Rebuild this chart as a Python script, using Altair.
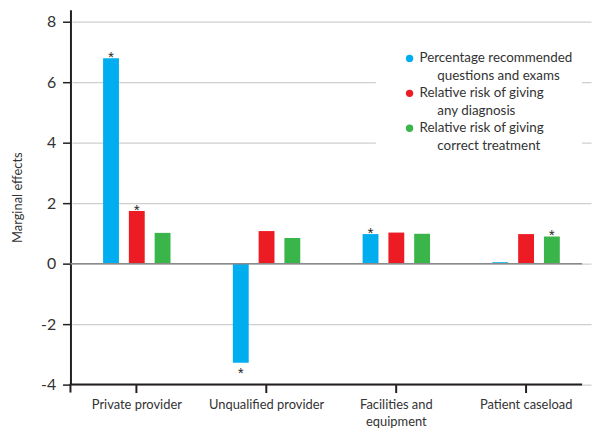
import altair as alt
import pandas as pd

categories = ["Private provider", "Unqualified provider", "Facilities and equipment", "Patient caseload"]
series = [
    "Percentage recommended questions and exams",
    "Relative risk of giving any diagnosis",
    "Relative risk of giving correct treatment",
]
pct_questions = [6.8, -3.28, 0.98, 0.05]
rr_diagnosis = [1.74, 1.08, 1.03, 0.98]
rr_treatment = [1.02, 0.85, 0.99, 0.9]
sig_questions = [True, True, True, False]
sig_diagnosis = [True, False, False, False]
sig_treatment = [False, False, False, True]
colors = ["#00AEEF", "#ED1C24", "#3AB54A"]
legend_lines = [
    ["Percentage recommended", "questions and exams"],
    ["Relative risk of giving", "any diagnosis"],
    ["Relative risk of giving", "correct treatment"],
]
y_ticks = [-4, -2, 0, 2, 4, 6, 8]

FONT = "Lato"
TXT = "#333333"

rows = []
for vals, sigs, s in [(pct_questions, sig_questions, series[0]),
                      (rr_diagnosis, sig_diagnosis, series[1]),
                      (rr_treatment, sig_treatment, series[2])]:
    for c, v, g in zip(categories, vals, sigs):
        rows.append({"category": c, "series": s, "value": v, "sig": g})
df = pd.DataFrame(rows)

W, H = 516, 378

x_enc = alt.X(
    "category:N", sort=categories, title=None,
    scale=alt.Scale(range=[1.5, 525], paddingInner=0, paddingOuter=0),
    axis=alt.Axis(
        domain=False, tickColor="#231f20", tickWidth=2, tickSize=8,
        labelAngle=0, labelFont=FONT, labelFontSize=13, labelColor=TXT,
        labelPadding=6, labelLineHeight=17,
        labelExpr="datum.label == 'Facilities and equipment' ? ['Facilities and', 'equipment'] : datum.label",
    ),
)
xo_enc = alt.XOffset("series:N", sort=series,
                     scale=alt.Scale(range=[31.4, 99.4], paddingInner=0.3846, paddingOuter=0))
y_enc = alt.Y(
    "value:Q", title="Marginal effects",
    scale=alt.Scale(domain=[-4, 8.4], nice=False, zero=False),
    axis=alt.Axis(
        values=y_ticks, labelExpr="'' + datum.value",
        domainColor="#231f20", domainWidth=2, tickColor="#231f20", tickWidth=1.5,
        tickSize=8, labelPadding=7, labelFont=FONT, labelFontSize=16, labelColor=TXT,
        gridColor="#cfcfcf", gridWidth=1.2,
        titleFont=FONT, titleFontSize=13, titleFontWeight="normal", titleColor=TXT,
        titlePadding=16,
    ),
)
color_enc = alt.Color("series:N", scale=alt.Scale(domain=series, range=colors), legend=None)

base = alt.Chart(df)

legend_bg = alt.Chart(pd.DataFrame({"a": [0]})).mark_rect(color="white").encode(
    x=alt.value(308), x2=alt.value(W), y=alt.value(28), y2=alt.value(150)
)

zero_line = alt.Chart(pd.DataFrame({"v": [0]})).mark_rule(color="#8a8a8a", strokeWidth=1.5).encode(
    y=alt.Y("v:Q")
)

bars = base.mark_bar(opacity=1).encode(x=x_enc, xOffset=xo_enc, y=y_enc, color=color_enc)

stars_up = base.transform_filter("datum.sig && datum.value >= 0").mark_text(
    text="*", font="Roboto", fontSize=13, color=TXT, baseline="alphabetic", dy=3
).encode(x=alt.X("category:N", sort=categories), xOffset=alt.XOffset("series:N", sort=series), y="value:Q")

stars_down = base.transform_filter("datum.sig && datum.value < 0").mark_text(
    text="*", font="Roboto", fontSize=13, color=TXT, baseline="alphabetic", dy=14
).encode(x=alt.X("category:N", sort=categories), xOffset=alt.XOffset("series:N", sort=series), y="value:Q")

x_axis_line = alt.Chart(pd.DataFrame({"a": [0]})).mark_rule(color="#231f20", strokeWidth=2).encode(
    x=alt.value(0), x2=alt.value(W), y=alt.value(H)
)
y_axis_ext = alt.Chart(pd.DataFrame({"a": [0]})).mark_rule(color="#231f20", strokeWidth=2).encode(
    x=alt.value(0), y=alt.value(H - 1), y2=alt.value(H + 8)
)

dot_rows, text_rows = [], []
for i, (s, lines) in enumerate(zip(series, legend_lines)):
    y0 = 49 + i * 35.2
    dot_rows.append({"series": s, "px": 342, "py": y0})
    text_rows.append({"t": lines[0], "px": 352, "py": y0})
    text_rows.append({"t": lines[1], "px": 370, "py": y0 + 17.6})
leg_dots = alt.Chart(pd.DataFrame(dot_rows)).mark_circle(size=55, opacity=1).encode(
    x=alt.X("px:Q", scale=None), y=alt.Y("py:Q", scale=None), color=color_enc
)
leg_text = alt.Chart(pd.DataFrame(text_rows)).mark_text(
    align="left", baseline="middle", font=FONT, fontSize=13.5, color=TXT
).encode(x=alt.X("px:Q", scale=None), y=alt.Y("py:Q", scale=None), text="t:N")

chart = alt.layer(
    bars, legend_bg, zero_line, stars_up, stars_down, x_axis_line, y_axis_ext, leg_dots, leg_text
).properties(
    width=W, height=H,
    autosize=alt.AutoSizeParams(type="none"),
    padding={"left": 63, "top": 0, "right": 10, "bottom": 50},
).configure_view(stroke=None)

chart.save("out.html", embed_options={"renderer": "svg", "actions": False})
